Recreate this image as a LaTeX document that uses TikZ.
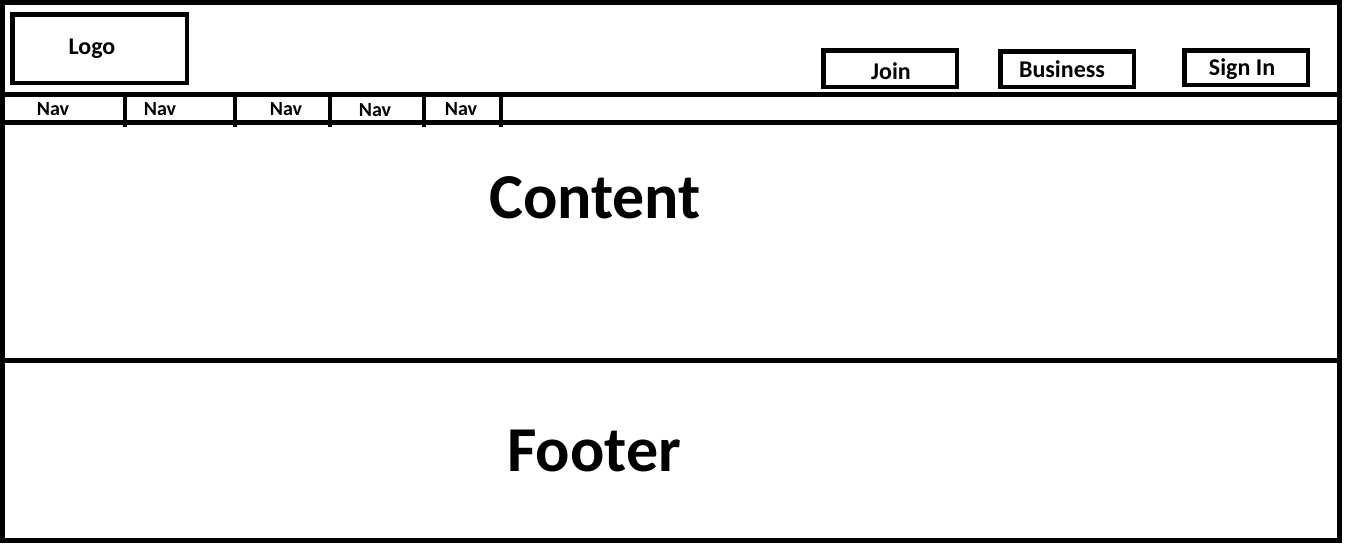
\documentclass[tikz,border=0pt]{standalone}
\usepackage{fontspec}
\setmainfont{Carlito}
\begin{document}
\begin{tikzpicture}[x=1pt,y=-1pt,
  frame/.style={line width=5pt},
  divider/.style={line width=4pt},
  box/.style={draw, line width=4.5pt, inner sep=0pt},
  lbl/.style={font=\bfseries\fontsize{#1}{#1}\selectfont, anchor=base, inner sep=0pt},
]
\useasboundingbox[fill=white] (0,0) rectangle (1346,546);
% outer frame
\draw[frame] (2.5,2.5) rectangle (1339.5,540);
% horizontal separators
\draw[frame] (0,94.5) -- (1342,94.5);
\draw[frame] (0,122.5) -- (1342,122.5);
\draw[frame] (0,360) -- (1342,360);
% nav dividers
\foreach \x in {125,234.5,330,424,501}{
  \draw[divider] (\x,93) -- (\x,126.5);
}
% logo box
\node[box, minimum width=174.5pt, minimum height=68.5pt] (logo) at (99.5,48.5) {};
\node[lbl=24] (logotext) at (92,54) {Logo};
% buttons
\node[box, minimum width=133.5pt, minimum height=36.5pt] (join) at (890,68.5) {};
\node[lbl=24] (jointext) at (891,79) {Join};
\node[box, minimum width=133.5pt, minimum height=35.5pt] (business) at (1067,69) {};
\node[lbl=24] (businesstext) at (1062,77.5) {Business};
\node[box, minimum width=123.5pt, minimum height=34.5pt] (signin) at (1246,67.5) {};
\node[lbl=24] (signintext) at (1242,75) {Sign In};
% nav labels
\node[lbl=20] (nav1) at (53,115.5) {Nav};
\node[lbl=20] (nav2) at (160,115.5) {Nav};
\node[lbl=20] (nav3) at (286,115.5) {Nav};
\node[lbl=20] (nav4) at (375,116.5) {Nav};
\node[lbl=20] (nav5) at (461,115.5) {Nav};
% content & footer
\node[lbl=64] (content) at (595,218) {Content};
\node[lbl=64] (footer) at (594,471) {Footer};
\end{tikzpicture}
\end{document}
